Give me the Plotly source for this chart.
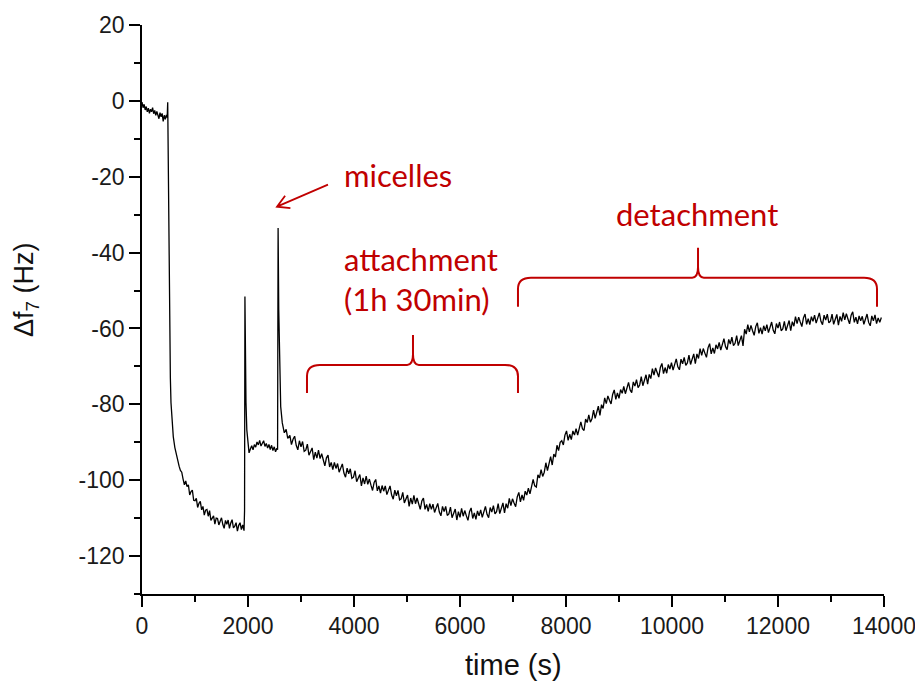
import plotly.graph_objects as go

# QCM frequency shift of the 7th overtone versus time
time_s = [
    # baseline in buffer, then solvent exchange
    0, 20, 40, 60, 80, 100, 120, 140, 160, 180, 200, 220, 240, 260, 280, 300,
    320, 340, 360, 380, 400, 420, 440, 460, 475, 485, 495, 505, 512, 522, 535,
    547, 565, 590, 620, 650,
    675, 700, 725, 750, 775, 800, 825, 850, 875, 900, 925, 950, 975, 1000,
    1025, 1050, 1075, 1100, 1125, 1150, 1175, 1200, 1225, 1250, 1275, 1300,
    1325, 1350, 1375, 1400, 1425, 1450, 1475, 1500, 1525, 1550, 1575, 1600,
    1625, 1650, 1675, 1700, 1725, 1750, 1775, 1800, 1825, 1850, 1875, 1900,
    1925,
    # first micelle injection
    1935, 1942, 1952, 1962, 1978, 2000, 2020,
    2045, 2070, 2095, 2120, 2145, 2170, 2195, 2220, 2245, 2270, 2295, 2320,
    2345, 2370, 2395, 2420, 2445, 2470, 2495, 2520, 2545, 2558,
    # second micelle injection
    2568, 2580, 2595, 2617, 2647, 2685, 2720, 2750,
    # attachment and detachment
    2790, 2820, 2850, 2880, 2910, 2940, 2970, 3000, 3030, 3060,
    3090, 3120, 3150, 3180, 3210, 3240, 3270, 3300, 3330, 3360,
    3390, 3420, 3450, 3480, 3510, 3540, 3570, 3600, 3630, 3660,
    3690, 3720, 3750, 3780, 3810, 3840, 3870, 3900, 3930, 3960,
    3990, 4020, 4050, 4080, 4110, 4140, 4170, 4200, 4230, 4260,
    4290, 4320, 4350, 4380, 4410, 4440, 4470, 4500, 4530, 4560,
    4590, 4620, 4650, 4680, 4710, 4740, 4770, 4800, 4830, 4860,
    4890, 4920, 4950, 4980, 5010, 5040, 5070, 5100, 5130, 5160,
    5190, 5220, 5250, 5280, 5310, 5340, 5370, 5400, 5430, 5460,
    5490, 5520, 5550, 5580, 5610, 5640, 5670, 5700, 5730, 5760,
    5790, 5820, 5850, 5880, 5910, 5940, 5970, 6000, 6030, 6060,
    6090, 6120, 6150, 6180, 6210, 6240, 6270, 6300, 6330, 6360,
    6390, 6420, 6450, 6480, 6510, 6540, 6570, 6600, 6630, 6660,
    6690, 6720, 6750, 6780, 6810, 6840, 6870, 6900, 6930, 6960,
    6990, 7020, 7050, 7080, 7110, 7140, 7170, 7200, 7230, 7260,
    7290, 7320, 7350, 7380, 7410, 7440, 7470, 7500, 7530, 7560,
    7590, 7620, 7650, 7680, 7710, 7740, 7770, 7800, 7830, 7860,
    7890, 7920, 7950, 7980, 8010, 8040, 8070, 8100, 8130, 8160,
    8190, 8220, 8250, 8280, 8310, 8340, 8370, 8400, 8430, 8460,
    8490, 8520, 8550, 8580, 8610, 8640, 8670, 8700, 8730, 8760,
    8790, 8820, 8850, 8880, 8910, 8940, 8970, 9000, 9030, 9060,
    9090, 9120, 9150, 9180, 9210, 9240, 9270, 9300, 9330, 9360,
    9390, 9420, 9450, 9480, 9510, 9540, 9570, 9600, 9630, 9660,
    9690, 9720, 9750, 9780, 9810, 9840, 9870, 9900, 9930, 9960,
    9990, 10020, 10050, 10080, 10110, 10140, 10170, 10200, 10230, 10260,
    10290, 10320, 10350, 10380, 10410, 10440, 10470, 10500, 10530, 10560,
    10590, 10620, 10650, 10680, 10710, 10740, 10770, 10800, 10830, 10860,
    10890, 10920, 10950, 10980, 11010, 11040, 11070, 11100, 11130, 11160,
    11190, 11220, 11250, 11280, 11310, 11340, 11370, 11400, 11430, 11460,
    11490, 11520, 11550, 11580, 11610, 11640, 11670, 11700, 11730, 11760,
    11790, 11820, 11850, 11880, 11910, 11940, 11970, 12000, 12030, 12060,
    12090, 12120, 12150, 12180, 12210, 12240, 12270, 12300, 12330, 12360,
    12390, 12420, 12450, 12480, 12510, 12540, 12570, 12600, 12630, 12660,
    12690, 12720, 12750, 12780, 12810, 12840, 12870, 12900, 12930, 12960,
    12990, 13020, 13050, 13080, 13110, 13140, 13170, 13200, 13230, 13260,
    13290, 13320, 13350, 13380, 13410, 13440, 13470, 13500, 13530, 13560,
    13590, 13620, 13650, 13680, 13710, 13740, 13770, 13800, 13830, 13860,
    13890, 13920, 13950,
]

df7_hz = [
    -0.3, -1.8, -0.9, -2.4, -1.5, -2.9, -1.9, -3.3, -2.2, -2.9, -1.8, -3.4,
    -2.5, -3.8, -2.8, -3.6, -4.7, -3.1, -4.2, -3.3, -5.4, -3.8, -4.9, -3.7,
    -4.4, -0.4, -18.0, -38.0, -57.0, -66.0, -73.0, -79.6, -84.5, -88.5, -91.4,
    -93.4,
    -94.3, -96.3, -97.4, -97.9, -99.7, -101.2, -100.2, -101.7, -101.2, -103.9,
    -103.0, -102.6, -105.3, -105.4, -104.8, -107.2, -106.1, -105.6, -107.8,
    -106.9, -109.2, -107.9, -107.7, -109.5, -108.0, -110.6, -110.0, -109.4,
    -111.6, -110.0, -110.1, -111.8, -110.8, -109.9, -111.7, -112.7, -110.6,
    -111.6, -110.5, -112.7, -111.3, -110.4, -112.6, -112.1, -111.2, -113.4,
    -111.9, -111.2, -113.0, -111.8, -113.3,
    -108.0, -51.6, -68.0, -79.5, -86.8, -90.5, -92.8,
    -91.8, -90.9, -92.0, -90.6, -91.3, -89.9, -90.7, -89.5, -91.0, -90.2,
    -89.6, -91.1, -90.3, -91.5, -90.6, -91.9, -90.8, -92.2, -91.2, -92.5,
    -91.6, -92.0,
    -33.5, -55.0, -68.0, -80.6, -84.9, -87.5, -86.6, -89.0,
    -88.2, -90.6, -89.2, -88.4, -90.8, -92.0, -89.6, -91.2, -89.8, -92.4,
    -92.1, -90.5, -93.4, -92.2, -91.5, -94.6, -92.6, -94.2, -92.1, -94.3,
    -93.0, -94.6, -96.2, -94.1, -93.4, -96.5, -95.3, -97.2, -95.3, -96.9,
    -95.6, -97.9, -96.5, -95.7, -98.1, -99.2, -96.8, -98.3, -97.0, -99.5,
    -99.2, -97.5, -100.4, -99.2, -98.5, -101.5, -99.4, -101.0, -98.9, -101.1,
    -99.7, -101.3, -102.7, -100.6, -99.8, -102.8, -101.5, -103.4, -101.4, -102.9,
    -101.5, -103.8, -102.4, -101.5, -103.9, -105.0, -102.6, -104.1, -102.7, -105.2,
    -104.9, -103.2, -106.0, -104.7, -103.9, -106.9, -104.7, -106.3, -104.0, -106.2,
    -104.7, -106.2, -107.7, -105.5, -104.7, -107.7, -106.4, -108.2, -106.2, -107.7,
    -106.3, -108.5, -107.0, -106.1, -108.4, -109.4, -106.9, -108.3, -106.9, -109.3,
    -108.9, -107.1, -109.9, -108.4, -107.6, -110.5, -108.3, -109.8, -107.4, -109.5,
    -108.0, -109.4, -110.6, -108.3, -107.3, -110.1, -108.6, -110.3, -108.1, -109.4,
    -107.8, -109.8, -108.1, -106.9, -109.0, -109.9, -107.2, -108.4, -106.7, -108.9,
    -108.3, -106.2, -108.8, -107.1, -106.0, -108.6, -106.2, -107.4, -104.8, -106.7,
    -104.9, -106.0, -107.0, -104.4, -103.2, -105.7, -103.9, -105.3, -102.9, -103.9,
    -102.1, -103.6, -101.5, -99.8, -101.5, -101.8, -98.6, -99.4, -97.2, -99.0,
    -97.9, -95.4, -97.5, -95.3, -93.8, -96.0, -93.1, -93.9, -90.8, -92.2,
    -90.0, -89.6, -90.7, -88.1, -87.0, -89.5, -87.9, -89.3, -87.0, -88.1,
    -86.4, -88.1, -86.1, -84.6, -86.4, -86.9, -83.9, -84.8, -82.8, -84.7,
    -83.8, -81.5, -83.7, -81.8, -80.5, -82.9, -80.1, -81.1, -78.3, -79.8,
    -77.8, -78.9, -79.9, -77.4, -76.2, -78.7, -77.0, -78.4, -76.1, -77.1,
    -75.3, -77.2, -75.4, -74.2, -76.2, -76.9, -74.1, -75.2, -73.5, -75.6,
    -74.9, -72.7, -75.1, -73.4, -72.2, -74.7, -72.1, -73.2, -70.6, -72.3,
    -70.4, -71.6, -72.8, -70.3, -69.2, -71.9, -70.3, -71.8, -69.5, -70.7,
    -69.0, -71.0, -69.2, -68.0, -70.1, -70.9, -68.1, -69.3, -67.6, -69.7,
    -69.1, -67.0, -69.5, -67.8, -66.7, -69.3, -66.7, -67.9, -65.3, -67.1,
    -65.3, -66.5, -67.6, -65.1, -64.0, -66.7, -65.1, -66.6, -64.3, -65.4,
    -63.7, -65.7, -64.0, -62.7, -64.8, -65.6, -62.9, -64.1, -62.3, -64.5,
    -63.9, -61.9, -64.5, -62.9, -61.9, -64.6, -60.2, -61.5, -59.0, -60.9,
    -59.2, -60.6, -61.8, -59.5, -58.5, -61.3, -59.8, -61.5, -59.3, -60.6,
    -59.0, -61.1, -59.4, -58.3, -60.5, -61.4, -58.7, -59.9, -58.3, -60.6,
    -60.1, -58.1, -60.6, -59.0, -57.9, -60.6, -58.2, -59.4, -56.9, -58.7,
    -57.0, -58.3, -59.5, -57.2, -56.2, -58.9, -57.4, -59.0, -56.9, -58.1,
    -56.5, -58.6, -57.0, -55.9, -58.1, -59.0, -56.5, -57.8, -56.2, -58.5,
    -58.1, -56.2, -58.9, -57.3, -56.3, -59.1, -56.8, -58.1, -55.8, -57.7,
    -56.1, -57.5, -58.8, -56.5, -55.6, -58.4, -57.0, -58.8, -56.7, -58.0,
    -56.8, -58.9, -57.3, -56.2, -58.4, -59.3, -56.7, -58.0, -56.4, -58.7,
    -57.2, -58.4, -57.1,
]

x_tick_vals = [0, 2000, 4000, 6000, 8000, 10000, 12000, 14000]
x_tick_labels = ["0", "2000", "4000", "6000", "8000", "10000", "12000", "14000"]
y_tick_vals = [20, 0, -20, -40, -60, -80, -100, -120]
y_tick_labels = ["20", "0", "-20", "-40", "-60", "-80", "-100", "-120"]

RED = "#C00000"
AXIS_FONT = "Liberation Sans, Arial, sans-serif"
NOTE_FONT = "Lato, Open Sans, sans-serif"


def brace_path(x0, x1, xm, y_end, y_line, y_tip, cdx, cdy, kdx, kdy):
    """Curly brace opening downward, ends at y_end, tip pointing up at xm."""
    return (
        f"M {x0},{y_end} L {x0},{y_line - cdy} "
        f"Q {x0},{y_line} {x0 + cdx},{y_line} "
        f"L {xm - kdx},{y_line} Q {xm},{y_line} {xm},{y_line + kdy} "
        f"L {xm},{y_tip} L {xm},{y_line + kdy} "
        f"Q {xm},{y_line} {xm + kdx},{y_line} "
        f"L {x1 - cdx},{y_line} Q {x1},{y_line} {x1},{y_line - cdy} "
        f"L {x1},{y_end}"
    )


fig = go.Figure()
fig.add_trace(go.Scatter(
    x=time_s, y=df7_hz, mode="lines",
    line=dict(color="black", width=1.3),
    showlegend=False, hoverinfo="skip",
))

fig.add_shape(type="path", xref="x", yref="y",
              path=brace_path(3113, 7094, 5113, -77.0, -69.6, -61.7, 245, 3.0, 110, 2.8),
              line=dict(color=RED, width=2))
fig.add_shape(type="path", xref="x", yref="y",
              path=brace_path(7094, 13868, 10491, -54.3, -46.6, -38.7, 245, 3.0, 110, 2.8),
              line=dict(color=RED, width=2))

# arrow pointing at the second micelle injection peak (shaft + open head)
fig.add_shape(type="path", xref="x", yref="y",
              path="M 3509,-22.1 L 2547,-27.9 M 2800,-28.3 L 2547,-27.9 L 2700,-25.0",
              line=dict(color=RED, width=1.8))

note_font = dict(family=NOTE_FONT, size=31, color=RED)
fig.add_annotation(x=3780, y=-19.5, xref="x", yref="y", text="micelles",
                   showarrow=False, xanchor="left", yanchor="middle", font=note_font)
fig.add_annotation(x=3780, y=-46.9, xref="x", yref="y",
                   text="attachment<br>(1h 30min)", align="left",
                   showarrow=False, xanchor="left", yanchor="middle", font=note_font)
fig.add_annotation(x=8900, y=-29.8, xref="x", yref="y", text="detachment",
                   showarrow=False, xanchor="left", yanchor="middle", font=note_font)

fig.add_annotation(x=0.5, y=-0.125, xref="paper", yref="paper", text="time (s)",
                   showarrow=False, xanchor="center", yanchor="middle",
                   font=dict(family=AXIS_FONT, size=29, color="#111"))
fig.add_annotation(x=-0.157, y=0.535, xref="paper", yref="paper",
                   text="Δf<sub>7</sub> (Hz)", textangle=-90,
                   showarrow=False, xanchor="center", yanchor="middle",
                   font=dict(family=AXIS_FONT, size=27, color="#111"))

axis_common = dict(
    showline=True, linecolor="black", linewidth=1.6, mirror=False,
    showgrid=False, zeroline=False, ticks="outside", ticklen=11,
    tickwidth=1.6, tickcolor="black", automargin=False,
    ticklabeloverflow="allow",
    tickfont=dict(family=AXIS_FONT, size=23, color="#1a1a1a"),
)
fig.update_xaxes(range=[0, 14000], tickmode="array", tickvals=x_tick_vals,
                 ticktext=x_tick_labels,
                 minor=dict(dtick=1000, tick0=0, ticks="outside", ticklen=6,
                            tickwidth=1.6, tickcolor="black"),
                 **axis_common)
fig.update_yaxes(range=[-130, 20], tickmode="array", tickvals=y_tick_vals,
                 ticktext=y_tick_labels,
                 minor=dict(dtick=10, tick0=0, ticks="outside", ticklen=6,
                            tickwidth=1.6, tickcolor="black"),
                 **axis_common)

fig.update_layout(
    width=915, height=685,
    margin=dict(l=142, r=31, t=25, b=91),
    plot_bgcolor="white", paper_bgcolor="white",
)

fig.write_html("out.html")
